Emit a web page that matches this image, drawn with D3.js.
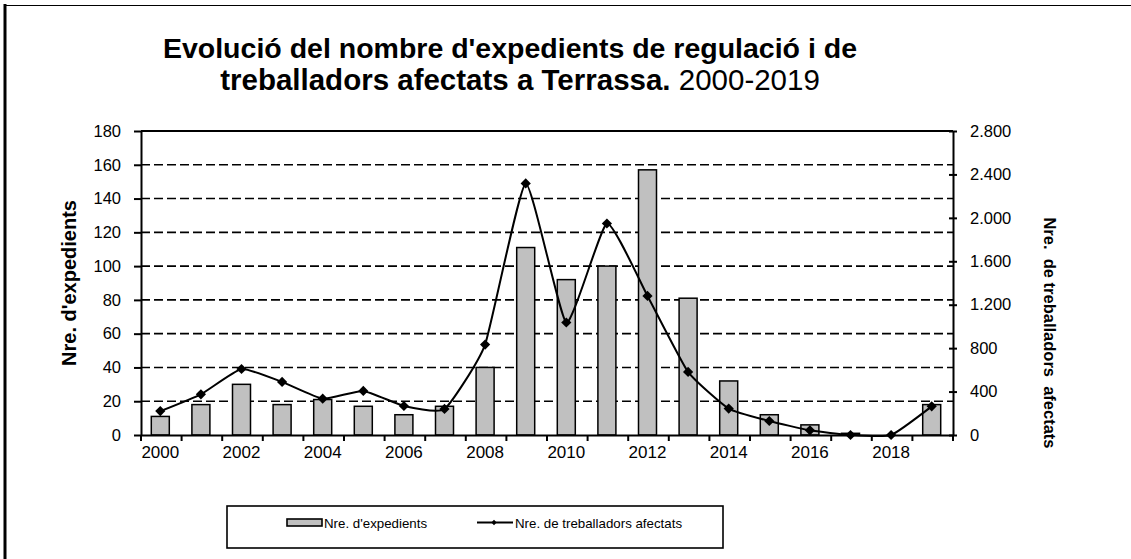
<!DOCTYPE html>
<html>
<head>
<meta charset="utf-8">
<script src="https://cdn.jsdelivr.net/npm/d3@7"></script>
<style>
  html, body { margin: 0; padding: 0; background: #fff; }
  svg { display: block; font-family: "Liberation Sans", Arial, sans-serif; }
</style>
</head>
<body>
<svg id="chart" width="1131" height="559"></svg>
<script>
// Years on the category axis
const years = [2000, 2001, 2002, 2003, 2004, 2005, 2006, 2007, 2008, 2009,
               2010, 2011, 2012, 2013, 2014, 2015, 2016, 2017, 2018, 2019];
// Number of regulation files (left axis, bars)
const expedients = [11, 18, 30, 18, 21, 17, 12, 17, 40, 111,
                    92, 100, 157, 81, 32, 12, 6, 1, 0, 18];
// Number of affected workers (right axis, line)
const treballadors = [220, 375, 608, 489, 335, 406, 267, 240, 833, 2317,
                      1036, 1948, 1281, 581, 243, 129, 43, 0, 0, 264];
// Axis tick values
const leftTicks = [0, 20, 40, 60, 80, 100, 120, 140, 160, 180];
const rightTicks = [0, 400, 800, 1200, 1600, 2000, 2400, 2800];
const labelYears = [2000, 2002, 2004, 2006, 2008, 2010, 2012, 2014, 2016, 2018];

const svg = d3.select("#chart");

const plot = { left: 141, right: 953, top: 131, bottom: 435 };

const x = d3.scaleBand().domain(years).range([plot.left, plot.right]).padding(0);
const yL = d3.scaleLinear().domain([0, 180]).range([plot.bottom, plot.top]);
const yR = d3.scaleLinear().domain([0, 2800]).range([plot.bottom, plot.top]);
const cx = d => x(d) + x.bandwidth() / 2 - 1;

// Frame lines of the figure
svg.append("line").attr("x1", 5).attr("x2", 5).attr("y1", 4).attr("y2", 559)
  .attr("stroke", "#000").attr("stroke-width", 3);
svg.append("line").attr("x1", 4).attr("x2", 1131).attr("y1", 5.5).attr("y2", 5.5)
  .attr("stroke", "#000").attr("stroke-width", 1.2);

// Title
svg.append("text")
  .attr("text-anchor", "middle")
  .attr("font-size", 28.5)
  .attr("font-weight", "bold")
  .attr("x", 510).attr("y", 58)
  .text("Evolució del nombre d'expedients de regulació i de");
const t2 = svg.append("text")
  .attr("text-anchor", "middle")
  .attr("font-size", 29.5)
  .attr("x", 520).attr("y", 90);
t2.append("tspan").attr("font-weight", "bold").text("treballadors afectats a Terrassa. ");
t2.append("tspan").attr("font-weight", "normal").text("2000-2019");

// Horizontal gridlines (dashed) and top border of plot
svg.append("g").selectAll("line")
  .data(leftTicks.filter(v => v > 0 && v < 180))
  .join("line")
  .attr("x1", plot.left).attr("x2", plot.right)
  .attr("y1", d => yL(d)).attr("y2", d => yL(d))
  .attr("stroke", "#000").attr("stroke-width", 1.6)
  .attr("stroke-dasharray", "9,4");
svg.append("line")
  .attr("x1", plot.left).attr("x2", plot.right)
  .attr("y1", yL(180)).attr("y2", yL(180))
  .attr("stroke", "#000").attr("stroke-width", 2);

// Bars
const barW = 18;
svg.append("g").selectAll("rect")
  .data(years.map((yr, i) => ({ yr, v: expedients[i] })))
  .join("rect")
  .attr("x", d => cx(d.yr) - barW / 2)
  .attr("y", d => yL(d.v))
  .attr("width", barW)
  .attr("height", d => yL(0) - yL(d.v))
  .attr("fill", "#c0c0c0")
  .attr("stroke", "#000").attr("stroke-width", 1.5);

// Axes
const axisStyle = g => {
  g.select(".domain").attr("stroke", "#000").attr("stroke-width", 2);
  g.selectAll(".tick line").attr("stroke", "#000").attr("stroke-width", 2);
  g.selectAll(".tick text").attr("fill", "#000").attr("font-size", 16.5)
    .attr("font-family", "Liberation Sans, Arial, sans-serif");
};

svg.append("g")
  .attr("transform", `translate(${plot.left},0)`)
  .call(d3.axisLeft(yL).tickValues(leftTicks).tickSize(7).tickPadding(13).tickSizeOuter(0))
  .call(axisStyle);

const fmtR = d => d3.format(",")(d).replace(/,/g, ".");
const rightAxis = svg.append("g")
  .attr("transform", `translate(${plot.right},0)`)
  .call(d3.axisRight(yR).tickValues(rightTicks).tickFormat(fmtR).tickSize(4).tickPadding(13).tickSizeOuter(0))
  .call(axisStyle);
rightAxis.selectAll(".tick line").attr("x1", -4).attr("x2", 4);

const bottomAxis = svg.append("g")
  .attr("transform", `translate(0,${plot.bottom})`)
  .call(d3.axisBottom(x).tickValues([]).tickSizeOuter(0))
  .call(axisStyle);
// Tick marks between categories
bottomAxis.selectAll(".sep")
  .data(d3.range(years.length + 1))
  .join("line")
  .attr("x1", i => plot.left + i * x.bandwidth())
  .attr("x2", i => plot.left + i * x.bandwidth())
  .attr("y1", 0).attr("y2", 6)
  .attr("stroke", "#000").attr("stroke-width", 2);
bottomAxis.selectAll(".lbl")
  .data(labelYears)
  .join("text")
  .attr("x", d => cx(d))
  .attr("y", 23)
  .attr("text-anchor", "middle")
  .attr("font-size", 17)
  .attr("fill", "#000")
  .text(d => d);

// Smoothed line for affected workers
const pts = years.map((yr, i) => ({ yr, v: treballadors[i] }));
const line = d3.line()
  .x(d => cx(d.yr))
  .y(d => yR(d.v))
  .curve(d3.curveCardinal.tension(0.55));
svg.append("path")
  .datum(pts)
  .attr("d", line)
  .attr("fill", "none")
  .attr("stroke", "#000").attr("stroke-width", 2);

const diamond = d3.symbol().type(d3.symbolSquare).size(52);
svg.append("g").selectAll("path")
  .data(pts)
  .join("path")
  .attr("d", diamond)
  .attr("transform", d => `translate(${cx(d.yr)},${yR(d.v)}) rotate(45)`)
  .attr("fill", "#000");

// Axis titles
svg.append("text")
  .attr("transform", `translate(76,${(plot.top + plot.bottom) / 2}) rotate(-90)`)
  .attr("text-anchor", "middle")
  .attr("font-size", 20)
  .attr("font-weight", "bold")
  .text("Nre. d'expedients");
svg.append("text")
  .attr("transform", `translate(1044,${(plot.top + plot.bottom) / 2 + 50}) rotate(90)`)
  .attr("text-anchor", "middle")
  .attr("font-size", 16.5)
  .attr("font-weight", "bold")
  .attr("xml:space", "preserve")
  .text("Nre.  de treballadors  afectats");

// Legend
const lg = svg.append("g");
lg.append("rect")
  .attr("x", 227).attr("y", 506).attr("width", 496).attr("height", 42)
  .attr("fill", "none").attr("stroke", "#000").attr("stroke-width", 1.6);
lg.append("rect")
  .attr("x", 287).attr("y", 519).attr("width", 35).attr("height", 7)
  .attr("fill", "#c0c0c0").attr("stroke", "#000").attr("stroke-width", 1.6);
lg.append("text")
  .attr("x", 324).attr("y", 528)
  .attr("font-size", 13.3)
  .text("Nre. d'expedients");
lg.append("line")
  .attr("x1", 477).attr("x2", 513).attr("y1", 522.5).attr("y2", 522.5)
  .attr("stroke", "#000").attr("stroke-width", 2);
lg.append("path")
  .attr("d", d3.symbol().type(d3.symbolSquare).size(14)())
  .attr("transform", "translate(494,522.5) rotate(45)")
  .attr("fill", "#000");
lg.append("text")
  .attr("x", 515).attr("y", 528)
  .attr("font-size", 13.3)
  .text("Nre. de treballadors afectats");
</script>
</body>
</html>
